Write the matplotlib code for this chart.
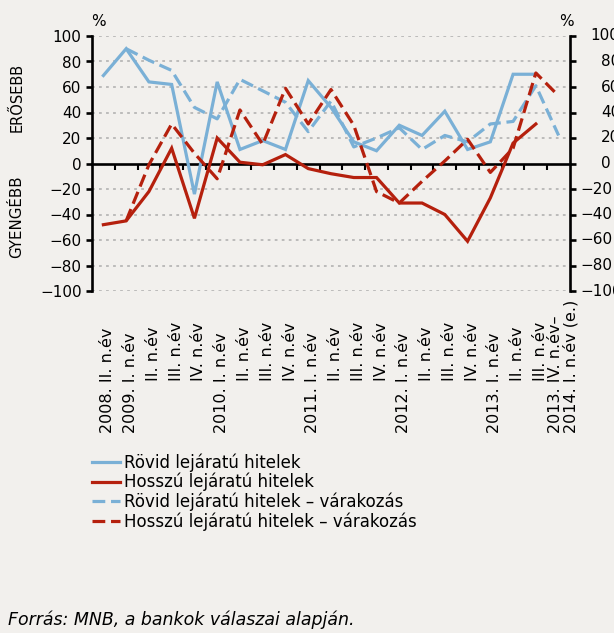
import numpy as np
import matplotlib
matplotlib.use("Agg")
import matplotlib.pyplot as plt
import matplotlib.transforms as mtransforms
from matplotlib.lines import Line2D

# ---- data ----
categories = ["2008. II. n.év", "2009. I. n.év", "II. n.év", "III. n.év", "IV. n.év",
              "2010. I. n.év", "II. n.év", "III. n.év", "IV. n.év",
              "2011. I. n.év", "II. n.év", "III. n.év", "IV. n.év",
              "2012. I. n.év", "II. n.év", "III. n.év", "IV. n.év",
              "2013. I. n.év", "II. n.év", "III. n.év",
              "2013. IV. n.év–\n2014. I. n.év (e.)"]
nan = np.nan
rovid = [69, 90, 64, 62, -24, 64, 11, 18, 11, 65, 44, 17, 10, 30, 22, 41, 11, 17, 70, 70, nan]
hosszu = [-48, -45, -22, 12, -43, 20, 1, -1, 7, -4, -8, -11, -11, -31, -31, -40, -61, -27, 16, 31, nan]
rovid_var = [nan, 90, 81, 73, 44, 35, 66, 57, 48, 25, 49, 13, 20, 28, 11, 22, 17, 31, 33, 61, 22]
hosszu_var = [nan, -45, -1, 31, 8, -12, 42, 15, 59, 31, 58, 30, -22, -31, -14, 2, 19, -7, 12, 71, 53]
series_labels = ["Rövid lejáratú hitelek", "Hosszú lejáratú hitelek",
                 "Rövid lejáratú hitelek – várakozás", "Hosszú lejáratú hitelek – várakozás"]
yticks = [-100, -80, -60, -40, -20, 0, 20, 40, 60, 80, 100]

# ---- style ----
BG = "#F2F0ED"
BLUE = "#7AB0D6"
RED = "#B5200D"
plt.rcParams['font.family'] = ['DejaVu Sans']

W, H = 614, 633
fig = plt.figure(figsize=(W / 100, H / 100), dpi=100, facecolor=BG)
ax = fig.add_axes([92 / W, 1 - 291 / H, (570 - 92) / W, (291 - 36) / H], facecolor=BG)

x = np.arange(len(categories))
lw = 2.3
dash = (4.0, 1.8)
ax.plot(x, rovid, color=BLUE, lw=lw, solid_joinstyle='miter', zorder=3)
ax.plot(x, hosszu, color=RED, lw=lw, solid_joinstyle='miter', zorder=3)
ax.plot(x, rovid_var, color=BLUE, lw=lw, dashes=dash, zorder=4)
ax.plot(x, hosszu_var, color=RED, lw=lw, dashes=dash, zorder=5)

ax.set_xlim(-0.5, len(categories) - 0.5)
ax.set_ylim(-100, 100)

# grid
for v in yticks:
    if v != 0:
        ax.axhline(v, color="#ADADAD", lw=1.1, linestyle=(0, (1.8, 2.8)), zorder=1)

# spines
ax.spines["top"].set_visible(False)
for s in ["left", "right"]:
    ax.spines[s].set_linewidth(1.9)
    ax.spines[s].set_color("black")
ax.spines["bottom"].set_position(("data", 0))
ax.spines["bottom"].set_linewidth(1.9)
ax.spines["bottom"].set_zorder(2)

ax.set_xticks(np.arange(0.5, len(categories) - 1, 1.0))
ax.set_xticklabels([])
ax.tick_params(axis='x', direction='out', length=4.5, width=1.5, colors='black')

ax.set_yticks(yticks)
ax.set_yticklabels([("−" + str(-v)) if v < 0 else str(v) for v in yticks], fontsize=11)
ax.tick_params(axis='y', direction='out', length=4.5, width=1.9, pad=3,
               left=True, right=True, labelleft=True, labelright=False)

# right tick labels (cropped at the figure edge as in the source)
bt = mtransforms.blended_transform_factory(ax.transAxes, ax.transData)
for v in yticks:
    if v < 0:
        off = 10
        txt = "−" + str(-v)
    elif v == 100:
        off = 20
        txt = str(v)
    else:
        off = 31
        txt = str(v)
    ax.text(1.0, v, txt, transform=bt + mtransforms.ScaledTranslation(off / 100, 0, fig.dpi_scale_trans),
            ha='left', va='center', fontsize=11, clip_on=False)

# % labels
fig.text(98 / W, 1 - 22 / H, "%", ha='center', va='center', fontsize=11)
fig.text(566 / W, 1 - 22 / H, "%", ha='center', va='center', fontsize=11)

# side labels
fig.text(17 / W, 1 - 97 / H, "ERŐSEBB", rotation=90, ha='center', va='center', fontsize=10.5)
fig.text(17 / W, 1 - 217 / H, "GYENGÉBB", rotation=90, ha='center', va='center', fontsize=10.8)

# category labels
bx = mtransforms.blended_transform_factory(ax.transData, fig.transFigure)
for i, lab in enumerate(categories):
    start = 433 if lab[0].isdigit() else 381
    fig.text(i + 0.2, 1 - start / H, lab, transform=bx, rotation=90, rotation_mode='anchor',
             ha='left', va='center', fontsize=11.5, multialignment='left', linespacing=1.0)

# legend
handles = [Line2D([], [], color=BLUE, lw=lw),
           Line2D([], [], color=RED, lw=lw),
           Line2D([], [], color=BLUE, lw=lw, dashes=dash),
           Line2D([], [], color=RED, lw=lw, dashes=dash)]
fig.legend(handles, series_labels, loc='upper left', bbox_to_anchor=(92 / W, 1 - 453 / H),
           frameon=False, fontsize=12, handlelength=1.7, handletextpad=0.2,
           labelspacing=0.08, borderpad=0, borderaxespad=0)

fig.text(8 / W, 1 - 620 / H, "Forrás: MNB, a bankok válaszai alapján.", style='italic',
         ha='left', va='center', fontsize=12.5)

fig.savefig("out.png", dpi=100, facecolor=BG)
